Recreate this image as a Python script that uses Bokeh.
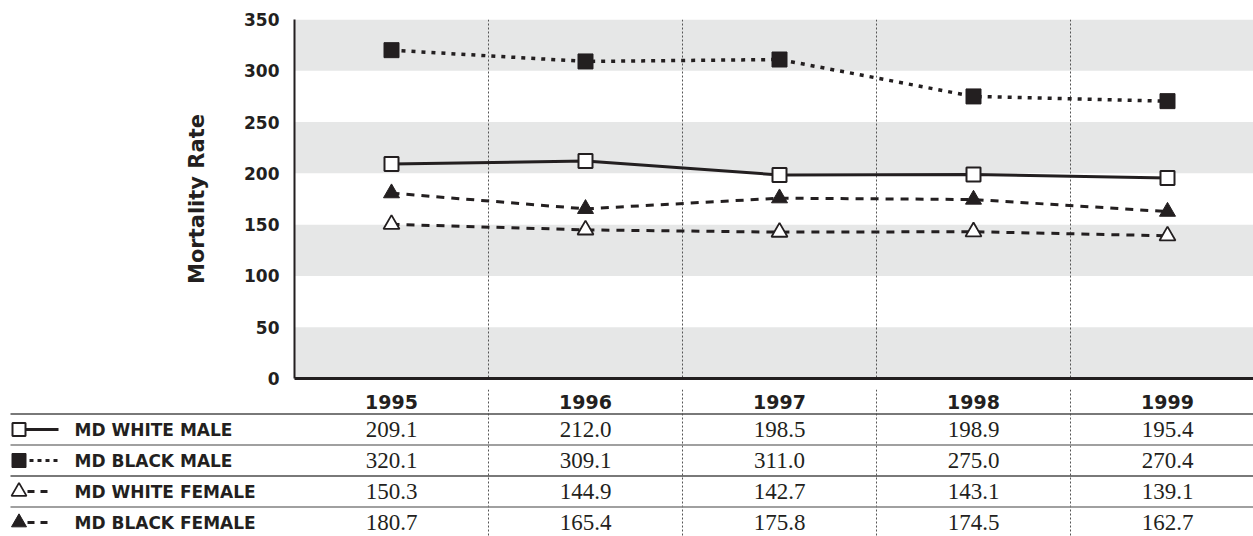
from bokeh.plotting import figure
from bokeh.models import Range1d, FixedTicker, BoxAnnotation, Span
from bokeh.core.properties import value
from bokeh.embed import file_html
from bokeh.resources import INLINE

# ---------------- data ----------------
years = ["1995", "1996", "1997", "1998", "1999"]
white_male = [209.1, 212.0, 198.5, 198.9, 195.4]
black_male = [320.1, 309.1, 311.0, 275.0, 270.4]
white_female = [150.3, 144.9, 142.7, 143.1, 139.1]
black_female = [180.7, 165.4, 175.8, 174.5, 162.7]
series_names = ["MD WHITE MALE", "MD BLACK MALE", "MD WHITE FEMALE", "MD BLACK FEMALE"]
y_ticks = [0, 50, 100, 150, 200, 250, 300, 350]

# ---------------- styles ----------------
INK = "#231f20"
BAND = "#e6e7e7"
GRID = "#555555"
RULE = "#808080"
SANS = value("DejaVu Sans")
SERIF = value("Liberation Serif")

series_values = [white_male, black_male, white_female, black_female]
styles = [
    dict(dash="solid", width=3, marker="square", fill="white", size=14, lw=2),
    dict(dash="4 6", width=3.5, marker="square", fill=INK, size=15, lw=1),
    dict(dash="8 7", width=3, marker="triangle", fill="white", size=16, lw=1.8),
    dict(dash="8 7", width=3, marker="triangle", fill=INK, size=16, lw=1),
]
legend_dash = ["solid", "4 4", "7 6", "7 6"]
legend_seg = [(25, 58), (29, 59), (27, 48), (27, 48)]

# pixel layout helpers (page coordinates)
W = 1253
H1 = 389
H_TOTAL = 536
PX0, STEP = 391, 194
LEFT, FRAME_L, RIGHT = 0, 294, 1253
RULE_L = 10
ROW0, ROWH = 398, 31
HEADER_R = 0.1


def xd(px):
    return (px - PX0) / STEP


def yr(py):
    return (py - ROW0) / ROWH


x = list(range(len(years)))
bounds = [i + 0.5 for i in x[:-1]]

# ---------------- chart ----------------
p1 = figure(width=W, height=H1,
            x_range=Range1d(xd(FRAME_L), xd(RIGHT)),
            y_range=Range1d(y_ticks[0], y_ticks[-1]),
            output_backend="svg", toolbar_location=None,
            min_border_left=FRAME_L, min_border_right=0,
            min_border_top=19, min_border_bottom=H1 - 378)
p1.outline_line_color = None
p1.xgrid.visible = False
p1.ygrid.visible = False

step = y_ticks[1] - y_ticks[0]
for lo in y_ticks[0:-1:2]:
    p1.add_layout(BoxAnnotation(bottom=lo, top=lo + step,
                                fill_color=BAND, fill_alpha=1.0,
                                line_color=None, level="underlay"))
for b in bounds:
    p1.add_layout(Span(location=b, dimension="height", line_color=GRID,
                       line_dash="2 2", line_width=1, level="underlay"))

for vals, st in zip(series_values, styles):
    p1.line(x, vals, line_color=INK, line_width=st["width"], line_dash=st["dash"])
for vals, st in zip(series_values, styles):
    p1.scatter(x, vals, marker=st["marker"], size=st["size"],
               fill_color=st["fill"], line_color=INK, line_width=st["lw"])

ya = p1.yaxis[0]
ya.ticker = FixedTicker(ticks=y_ticks)
ya.major_label_text_font = "DejaVu Sans"
ya.major_label_text_font_style = "bold"
ya.major_label_text_font_size = "17px"
ya.major_label_text_color = INK
ya.major_tick_out = 0
ya.major_tick_in = 0
ya.minor_tick_out = 0
ya.minor_tick_in = 0
ya.major_label_standoff = 15
ya.axis_line_width = 2
ya.axis_line_color = INK
ya.axis_label = "Mortality Rate"
ya.axis_label_text_font = "DejaVu Sans"
ya.axis_label_text_font_style = "bold"
ya.axis_label_text_font_size = "21px"
ya.axis_label_text_color = INK
ya.axis_label_standoff = 32

xa = p1.xaxis[0]
xa.ticker = FixedTicker(ticks=[])
xa.major_tick_out = 0
xa.major_tick_in = 0
xa.minor_tick_out = 0
xa.minor_tick_in = 0
xa.major_label_standoff = 0
xa.axis_line_width = 3
xa.axis_line_color = INK

# ---------------- table ----------------
p2 = figure(width=W, height=H_TOTAL - H1,
            x_range=Range1d(xd(LEFT), xd(RIGHT)),
            y_range=Range1d(yr(H_TOTAL), yr(H1)),
            x_axis_location=None, y_axis_location=None,
            output_backend="svg", toolbar_location=None,
            min_border=0)
p2.outline_line_color = None
p2.xgrid.visible = False
p2.ygrid.visible = False

for b in bounds:
    p2.add_layout(Span(location=b, dimension="height", line_color=GRID,
                       line_dash="2 2", line_width=1, level="underlay"))

rule_y = [r + 0.5 for r in range(len(series_names))]
p2.segment(x0=[xd(RULE_L)] * len(rule_y), y0=rule_y,
           x1=[xd(RIGHT)] * len(rule_y), y1=rule_y,
           line_color=[("#4d4d4d" if i % 2 == 0 else RULE) for i in range(len(rule_y))],
           line_width=1.5)

p2.text(x=x, y=[HEADER_R] * len(years), text=years, text_font=SANS,
        text_font_style="bold", text_font_size="19px", text_color=INK,
        text_align="center", text_baseline="middle")

rows = list(range(1, len(series_names) + 1))
for r, vals in zip(rows, series_values):
    p2.text(x=x, y=[r] * len(vals), text=[f"{v:.1f}" for v in vals],
            text_font=SERIF, text_font_size="23px", text_color=INK,
            text_align="center", text_baseline="middle")

p2.text(x=[xd(74)] * len(rows), y=rows, text=series_names, text_font=SANS,
        text_font_style="bold", text_font_size="17px", text_color=INK,
        text_align="left", text_baseline="middle")

for r, st, dash, (s0, s1) in zip(rows, styles, legend_dash, legend_seg):
    p2.segment(x0=[xd(s0)], y0=[r], x1=[xd(s1)], y1=[r], line_color=INK,
               line_width=3, line_dash=dash)
    p2.scatter(x=[xd(18.5)], y=[r], marker=st["marker"], size=st["size"] - 1,
               fill_color=st["fill"], line_color=INK, line_width=st["lw"])

open("out.html", "w").write(file_html([p1, p2], INLINE))
